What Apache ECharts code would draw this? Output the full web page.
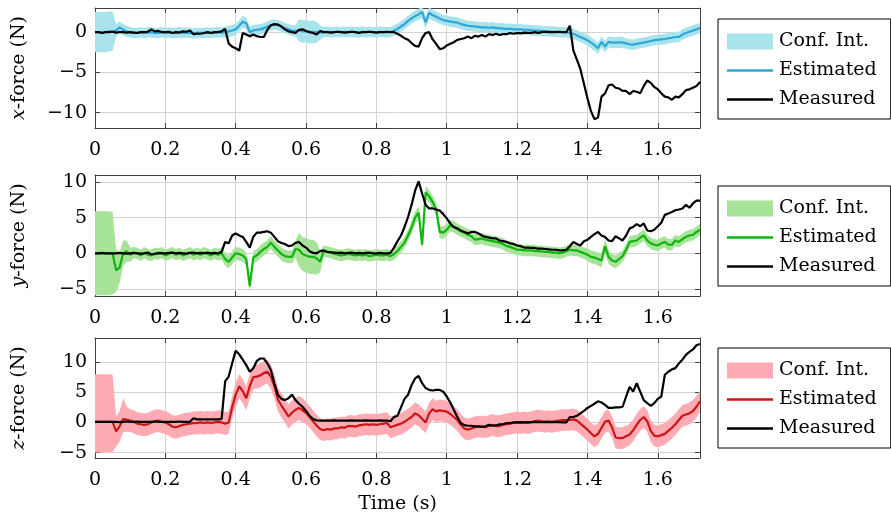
<!DOCTYPE html>
<html>
<head>
<meta charset="utf-8">
<script src="https://cdn.jsdelivr.net/npm/echarts@6/dist/echarts.min.js"></script>
<style>
  html, body { margin: 0; padding: 0; background: #ffffff; }
  #chart { width: 891px; height: 517px; }
</style>
</head>
<body>
<div id="chart"></div>
<script>
// Sample period of the recorded force signals (s)
const DT = 0.01;

// Tick labels
const timeTicks = [0, 0.2, 0.4, 0.6, 0.8, 1, 1.2, 1.4, 1.6];
const xForceTicks = [-10, -5, 0];
const yForceTicks = [-5, 0, 5, 10];
const zForceTicks = [-5, 0, 5, 10];
const legendLabels = ['Conf. Int.', 'Estimated', 'Measured'];

// ---- x-force (N) ----
const xMeasured = [
  0.0, 0.0, -0.1, 0.0, 0.0, 0.05, -0.05, 0.0, 0.0, -0.05,
  0.0, -0.05, -0.1, 0.0, 0.0, 0.05, 0.35, 0.1, 0.15, 0.0,
  0.0, 0.05, -0.1, 0.0, -0.05, 0.1, 0.05, 0.2, -0.25, -0.2,
  -0.2, -0.1, 0.0, -0.1, 0.0, 0.0, 0.1, 0.4, -1.4, -1.8,
  -2.0, -2.3, -0.1, -0.3, -0.5, -0.3, -0.5, -0.6, -0.6, 0.3,
  0.85, 1.0, 0.95, 0.7, 0.35, 0.1, 0.0, -0.1, 0.3, 0.35,
  0.15, 0.0, -0.1, -0.3, 0.15, 0.0, 0.0, -0.05, 0.0, 0.05,
  0.0, -0.05, 0.0, 0.05, 0.0, -0.1, 0.0, 0.0, 0.05, 0.0,
  -0.05, 0.0, 0.0, 0.05, 0.0, 0.0, -0.2, -0.45, -0.75, -0.95,
  -1.35, -1.7, -1.8, -0.75, -0.1, 0.0, -0.9, -1.45, -2.1, -2.0,
  -1.65, -1.45, -1.25, -0.95, -0.85, -0.75, -0.55, -0.75, -0.45, -0.55,
  -0.35, -0.55, -0.25, -0.35, -0.2, -0.35, -0.25, -0.25, -0.1, -0.2,
  -0.1, -0.15, -0.05, -0.1, -0.1, 0.0, -0.1, 0.0, 0.05, 0.0,
  0.0, 0.0, 0.05, 0.0, 0.0, 0.8, -2.3, -3.4, -4.6, -6.4,
  -8.2, -9.8, -10.8, -10.6, -8.0, -7.6, -6.6, -6.5, -6.9, -7.0,
  -7.3, -7.3, -7.7, -7.3, -7.4, -7.6, -6.7, -6.0, -6.3, -6.8,
  -7.1, -7.6, -8.0, -8.1, -8.4, -8.0, -8.1, -7.7, -7.2, -7.1,
  -6.9, -6.7, -6.2
];
const xEstimated = [
  0.0, 0.0, 0.0, 0.0, 0.1, 0.1, 0.2, 0.6, 0.3, 0.1,
  0.0, -0.1, -0.1, 0.0, -0.1, -0.05, 0.0, -0.1, -0.1, 0.0,
  -0.1, -0.05, -0.1, -0.1, 0.0, -0.1, -0.05, -0.1, -0.15, -0.1,
  -0.1, -0.1, -0.05, -0.1, -0.05, 0.0, -0.05, 0.0, 0.1, 0.2,
  0.35, 0.8, 1.3, 1.1, 0.0, 0.2, 0.3, 0.35, 0.5, 0.7,
  0.85, 0.95, 0.85, 0.7, 0.5, 0.35, 0.2, 0.15, 0.2, 0.1,
  0.1, 0.0, 0.05, 0.0, -0.05, 0.0, 0.05, 0.0, 0.0, 0.05,
  0.0, 0.05, 0.0, 0.05, 0.0, 0.0, 0.05, 0.0, 0.05, 0.0,
  0.0, 0.05, 0.0, 0.0, 0.0, 0.2, 0.4, 0.7, 1.0, 1.4,
  1.7, 2.0, 2.2, 2.5, 1.2, 2.4, 2.1, 1.9, 1.7, 1.5,
  1.4, 1.3, 1.25, 1.2, 1.0, 0.9, 0.8, 0.75, 0.7, 0.65,
  0.6, 0.6, 0.55, 0.6, 0.5, 0.5, 0.45, 0.4, 0.4, 0.35,
  0.35, 0.35, 0.3, 0.3, 0.25, 0.2, 0.2, 0.15, 0.1, 0.1,
  0.05, 0.05, 0.0, 0.0, 0.0, -0.1, -0.2, -0.4, -0.6, -0.8,
  -1.0, -1.3, -1.6, -2.0, -1.2, -1.8, -1.2, -1.3, -1.3, -1.25,
  -1.3, -1.4, -1.5, -1.55, -1.45, -1.35, -1.3, -1.2, -1.1, -1.0,
  -0.95, -0.9, -0.85, -0.75, -0.7, -0.6, -0.6, -0.3, -0.1, 0.05,
  0.2, 0.35, 0.5
];
const xCiHalf = [
  2.5, 2.5, 2.5, 2.5, 2.5, 2.4, 0.8, 0.7, 0.7, 0.7,
  0.65, 0.65, 0.65, 0.65, 0.65, 0.65, 0.65, 0.65, 0.65, 0.65,
  0.65, 0.65, 0.65, 0.65, 0.65, 0.65, 0.65, 0.65, 0.65, 0.65,
  0.65, 0.65, 0.65, 0.65, 0.65, 0.65, 0.65, 0.7, 0.7, 0.7,
  0.7, 0.7, 0.75, 0.75, 0.7, 0.7, 0.65, 0.65, 0.65, 0.65,
  0.65, 0.65, 0.65, 0.65, 0.65, 0.65, 0.65, 0.7, 1.4, 1.4,
  1.4, 1.4, 1.4, 1.3, 0.9, 0.65, 0.65, 0.65, 0.65, 0.65,
  0.65, 0.65, 0.65, 0.65, 0.65, 0.65, 0.65, 0.65, 0.65, 0.65,
  0.65, 0.65, 0.65, 0.65, 0.65, 0.65, 0.65, 0.65, 0.65, 0.65,
  0.65, 0.65, 0.7, 0.75, 0.8, 0.7, 0.65, 0.65, 0.65, 0.65,
  0.65, 0.65, 0.65, 0.65, 0.65, 0.65, 0.65, 0.65, 0.65, 0.65,
  0.65, 0.65, 0.65, 0.65, 0.65, 0.65, 0.65, 0.65, 0.65, 0.65,
  0.65, 0.65, 0.65, 0.65, 0.65, 0.65, 0.65, 0.65, 0.65, 0.65,
  0.65, 0.65, 0.65, 0.65, 0.65, 0.65, 0.65, 0.65, 0.65, 0.65,
  0.7, 0.7, 0.7, 0.7, 0.7, 0.7, 0.7, 0.7, 0.7, 0.7,
  0.7, 0.65, 0.65, 0.65, 0.65, 0.65, 0.65, 0.65, 0.65, 0.65,
  0.65, 0.65, 0.65, 0.65, 0.65, 0.65, 0.65, 0.65, 0.65, 0.65,
  0.65, 0.65, 0.65
];

// ---- y-force (N) ----
const yMeasured = [
  0.0, 0.0, 0.05, 0.0, 0.0, 0.0, 0.0, 0.05, 0.0, -0.05,
  0.0, 0.05, 0.0, -0.05, 0.0, 0.1, -0.15, -0.1, 0.05, 0.0,
  0.0, 0.05, 0.1, 0.0, 0.05, 0.0, -0.05, 0.05, 0.1, 0.0,
  0.05, 0.0, 0.1, 0.0, 0.05, 0.0, 0.2, 1.6, 1.4, 2.5,
  2.8, 2.5, 2.3, 1.6, 0.8, 2.3, 2.9, 2.9, 3.0, 3.1,
  2.9, 2.3, 1.7, 1.45, 1.3, 1.0, 1.1, 1.45, 1.6, 1.1,
  0.8, 0.3, 0.05, 0.0, 0.3, 0.4, 0.2, 0.15, 0.1, 0.05,
  0.1, 0.0, 0.05, 0.1, 0.0, 0.05, 0.0, 0.05, 0.1, 0.0,
  0.0, 0.05, 0.0, 0.0, 0.05, 0.8, 1.7, 2.5, 3.7, 5.1,
  6.8, 8.8, 10.1, 8.4, 6.8, 6.3, 6.3, 6.15, 6.0, 5.5,
  4.9, 4.2, 3.7, 3.5, 3.2, 3.0, 2.8, 3.0, 3.0, 2.8,
  2.5, 2.3, 2.2, 2.1, 2.1, 1.8, 1.7, 1.6, 1.4, 1.3,
  1.1, 1.0, 0.8, 0.8, 0.75, 0.75, 0.65, 0.65, 0.6, 0.55,
  0.5, 0.5, 0.4, 0.4, 0.5, 1.0, 1.6, 1.3, 1.1, 1.7,
  1.9, 2.3, 2.7, 3.0, 2.5, 2.3, 1.8, 1.7, 2.4, 2.1,
  1.8, 2.5, 3.5, 3.7, 4.1, 3.8, 4.2, 3.2, 3.1, 3.3,
  3.8, 4.3, 5.4, 5.6, 5.8, 6.05, 6.15, 6.3, 6.8, 6.4,
  7.0, 7.4, 7.4
];
const yEstimated = [
  0.0, 0.0, 0.0, 0.0, 0.0, 0.0, -2.4, -2.0, 0.0, 0.3,
  -0.2, 0.1, 0.0, -0.3, 0.1, -0.2, -0.3, 0.0, -0.1, 0.1,
  -0.3, -0.1, 0.1, -0.2, 0.0, -0.3, -0.1, 0.1, -0.2, 0.0,
  -0.2, 0.1, -0.1, -0.3, 0.0, -0.2, 0.0, -0.8, -1.2, -0.6,
  0.0, -0.1, -0.3, -0.8, -4.6, -0.6, -0.3, 0.2, 0.6, 0.9,
  1.5, 0.9, 0.4, -0.1, -0.4, -0.5, -0.5, 0.6, 0.5, -0.1,
  -0.3, -0.5, -0.5, -0.7, -1.2, 0.3, 0.2, 0.1, -0.1, -0.2,
  -0.3, -0.2, -0.1, -0.2, -0.3, -0.2, -0.3, -0.2, -0.4, -0.3,
  -0.2, -0.3, -0.3, -0.2, -0.4, -0.1, 0.3, 0.9, 1.5, 2.5,
  3.6, 5.0, 5.7, 1.2, 8.6, 8.0, 7.2, 6.2, 3.0, 2.9,
  3.3, 3.9, 3.7, 3.4, 3.1, 2.9, 2.6, 2.4, 1.9, 2.0,
  2.1, 1.9, 1.8, 1.7, 1.6, 1.5, 1.3, 1.0, 0.9, 0.7,
  0.5, 0.5, 0.4, 0.4, 0.4, 0.35, 0.3, 0.25, 0.2, 0.2,
  0.1, 0.1, 0.0, 0.1, 0.3, 0.5, 0.4, 0.4, 0.2, 0.0,
  -0.2, -0.5, -0.6, -0.8, -1.0, 1.0, -0.5, -1.0, -1.2, -0.8,
  -0.4, 0.5, 1.6, 1.7, 1.8, 2.2, 2.5, 1.8, 1.4, 1.2,
  1.1, 1.4, 1.6, 1.2, 1.2, 1.8, 1.6, 2.0, 2.3, 2.5,
  2.6, 3.0, 3.3
];
const yCiHalf = [
  5.9, 5.9, 5.9, 5.9, 5.9, 5.8, 3.0, 2.2, 1.8, 1.5,
  1.0, 0.8, 0.8, 0.8, 0.8, 0.8, 0.8, 0.8, 0.8, 0.8,
  0.8, 0.8, 0.8, 0.8, 0.8, 0.8, 0.8, 0.8, 0.8, 0.8,
  0.8, 0.8, 0.8, 0.8, 0.8, 0.8, 0.9, 0.9, 0.9, 0.9,
  0.9, 0.9, 0.9, 0.9, 0.9, 0.9, 0.9, 0.9, 0.9, 0.9,
  0.9, 0.9, 0.9, 0.9, 0.9, 0.9, 0.9, 1.2, 2.4, 2.4,
  2.4, 2.4, 2.4, 2.3, 1.5, 0.8, 0.8, 0.8, 0.8, 0.8,
  0.8, 0.8, 0.8, 0.8, 0.8, 0.8, 0.8, 0.8, 0.8, 0.8,
  0.8, 0.8, 0.8, 0.8, 0.8, 0.8, 0.8, 0.8, 0.8, 0.8,
  0.9, 0.9, 0.9, 0.9, 0.9, 0.9, 0.9, 0.9, 0.9, 0.9,
  0.8, 0.8, 0.8, 0.8, 0.8, 0.8, 0.8, 0.8, 0.8, 0.8,
  0.8, 0.8, 0.8, 0.8, 0.8, 0.8, 0.8, 0.8, 0.8, 0.8,
  0.8, 0.8, 0.8, 0.8, 0.8, 0.8, 0.8, 0.8, 0.8, 0.8,
  0.8, 0.8, 0.8, 0.8, 0.8, 0.8, 0.8, 0.8, 0.8, 0.8,
  0.9, 0.9, 0.9, 0.9, 1.0, 1.0, 1.0, 0.9, 0.9, 0.9,
  0.8, 0.8, 0.8, 0.8, 0.8, 0.8, 0.8, 0.8, 0.8, 0.8,
  0.8, 0.8, 0.8, 0.8, 0.8, 0.8, 0.8, 0.8, 0.8, 0.8,
  0.8, 0.8, 0.8
];

// ---- z-force (N) ----
const zMeasured = [
  0.1, 0.1, 0.1, 0.1, 0.1, 0.1, 0.1, 0.05, 0.1, 0.15,
  0.1, 0.1, 0.15, 0.1, 0.1, 0.1, 0.1, 0.15, 0.1, 0.1,
  0.1, 0.1, 0.1, 0.1, 0.15, 0.1, 0.1, 0.1, 0.7, 0.5,
  0.5, 0.5, 0.5, 0.5, 0.5, 0.5, 0.6, 6.8, 7.6, 9.8,
  11.9, 11.3, 10.4, 9.5, 8.4, 9.0, 10.2, 10.6, 10.6, 9.8,
  8.7, 6.5, 4.6, 3.9, 3.7, 4.0, 4.6, 3.7, 3.1, 2.6,
  1.9, 1.1, 0.55, 0.35, 0.3, 0.3, 0.3, 0.3, 0.35, 0.3,
  0.3, 0.3, 0.3, 0.35, 0.3, 0.3, 0.3, 0.35, 0.3, 0.3,
  0.3, 0.35, 0.3, 0.3, 0.2, 0.9, 1.1, 2.5, 3.9, 4.6,
  6.2, 7.3, 7.7, 6.5, 5.7, 5.4, 5.3, 5.4, 5.4, 5.1,
  4.3, 3.3, 2.1, 0.9, -0.1, -0.45, -0.55, -0.55, -0.65, -0.65,
  -0.75, -0.65, -0.4, -0.55, -0.5, -0.3, -0.3, -0.1, -0.1, 0.0,
  0.0, 0.05, 0.0, 0.05, 0.05, 0.1, 0.05, 0.05, 0.1, 0.05,
  0.05, 0.1, 0.05, 0.0, 0.0, 0.9, 0.9, 1.1, 1.5, 1.9,
  2.4, 2.75, 3.1, 3.5, 3.3, 2.9, 2.4, 2.4, 2.5, 2.5,
  2.6, 4.3, 5.9, 5.1, 6.5, 5.1, 3.7, 3.2, 2.75, 3.2,
  3.9, 4.3, 7.9, 8.4, 8.8, 9.0, 9.8, 10.4, 11.2, 11.7,
  12.1, 12.8, 13.0
];
const zEstimated = [
  0.1, 0.1, 0.1, 0.1, 0.1, 0.1, -1.5, -0.65, 0.55, 0.45,
  0.3, 0.1, -0.2, -0.3, -0.4, -0.3, 0.0, 0.2, 0.3, 0.1,
  0.0, -0.3, -0.7, -0.8, -0.6, -0.4, -0.3, -0.2, -0.1, -0.1,
  0.0, -0.1, 0.0, -0.1, 0.0, 0.1, 0.0, -0.2, 0.0, 2.5,
  4.6, 6.0, 5.2, 4.0, 6.0, 7.5, 7.6, 7.8, 8.2, 8.4,
  7.6, 6.0, 3.8, 2.8, 1.9, 1.0, 1.6, 2.1, 2.4, 2.0,
  1.6, 0.9, 0.2, -0.5, -1.1, -1.3, -1.1, -1.2, -1.0, -1.0,
  -0.8, -0.9, -0.6, -0.6, -0.7, -0.5, -0.4, -0.3, -0.4, -0.3,
  -0.4, -0.3, -0.2, -0.1, -0.8, -0.6, -0.4, -0.2, 0.1, 0.5,
  0.9, 1.5, 1.2, 0.6, 0.0, 1.5, 2.2, 1.8, 2.0, 1.9,
  1.8, 1.4, 0.9, 0.4, -0.4, -1.0, -1.2, -1.0, -0.8, -0.7,
  -0.7, -0.8, -0.6, -0.4, -0.6, -0.6, -0.4, -0.3, -0.2, -0.1,
  0.0, -0.1, 0.0, -0.1, 0.0, 0.2, 0.3, 0.2, 0.1, 0.2,
  0.1, 0.2, 0.3, 0.4, 0.4, 0.4, 0.5, 0.3, -0.2, -0.7,
  -1.2, -1.8, -2.3, -1.9, -0.9, 0.1, 0.3, -0.8, -2.5, -2.6,
  -2.6, -2.3, -2.0, -1.3, -0.4, 0.4, 0.9, 0.2, -1.4, -2.2,
  -2.3, -2.1, -1.9, -1.4, -0.9, -0.3, 0.4, 1.1, 1.3, 1.5,
  1.9, 2.6, 3.5
];
const zCiAbove = [
  7.9, 7.9, 7.9, 7.9, 7.9, 7.8, 2.5, 2.5, 3.5, 2.2,
  1.9, 1.9, 1.9, 1.9, 1.9, 1.9, 1.9, 1.9, 1.9, 1.9,
  1.9, 1.9, 1.9, 1.9, 1.9, 1.9, 1.9, 1.9, 1.9, 1.9,
  1.9, 1.9, 1.9, 1.9, 1.9, 1.9, 1.9, 1.9, 1.9, 1.9,
  2.0, 2.0, 2.0, 2.0, 2.0, 2.0, 2.0, 2.0, 2.0, 2.0,
  2.0, 2.0, 2.0, 2.0, 2.0, 2.0, 2.0, 2.0, 2.0, 2.0,
  1.8, 1.8, 1.8, 1.8, 1.8, 1.8, 1.8, 1.8, 1.8, 1.8,
  1.8, 1.8, 1.8, 1.8, 1.8, 1.8, 1.8, 1.8, 1.8, 1.8,
  1.8, 1.8, 1.8, 1.8, 1.8, 1.8, 1.8, 1.8, 1.8, 1.8,
  1.8, 1.8, 1.8, 1.8, 1.8, 1.8, 1.8, 1.8, 1.8, 1.8,
  1.8, 1.8, 1.8, 1.8, 1.8, 1.8, 1.8, 1.8, 1.8, 1.8,
  1.8, 1.8, 1.8, 1.8, 1.8, 1.8, 1.8, 1.8, 1.8, 1.8,
  1.8, 1.8, 1.8, 1.8, 1.8, 1.8, 1.8, 1.8, 1.8, 1.8,
  1.8, 1.8, 1.8, 1.8, 1.8, 1.8, 1.8, 1.8, 1.8, 1.8,
  1.8, 1.8, 1.8, 1.8, 1.8, 1.8, 1.8, 1.8, 1.8, 1.8,
  1.8, 1.8, 1.8, 1.8, 1.8, 1.8, 1.8, 1.8, 1.8, 1.8,
  1.8, 1.8, 1.8, 1.8, 1.8, 1.8, 1.8, 1.8, 1.8, 1.8,
  1.8, 1.8, 1.8
];
const zCiBelow = [
  5.1, 5.1, 5.1, 5.1, 5.1, 5.0, 2.5, 2.5, 2.2, 2.0,
  1.9, 1.9, 1.9, 1.9, 1.9, 1.9, 1.9, 1.9, 1.9, 1.9,
  1.9, 1.9, 1.9, 1.9, 1.9, 1.9, 1.9, 1.9, 1.9, 1.9,
  1.9, 1.9, 1.9, 1.9, 1.9, 1.9, 1.9, 1.9, 1.9, 1.9,
  2.0, 2.0, 2.0, 2.0, 2.0, 2.0, 2.0, 2.0, 2.0, 2.0,
  2.0, 2.0, 2.0, 2.0, 2.0, 2.0, 2.0, 2.0, 2.0, 2.0,
  1.8, 1.8, 1.8, 1.8, 1.8, 1.8, 1.8, 1.8, 1.8, 1.8,
  1.8, 1.8, 1.8, 1.8, 1.8, 1.8, 1.8, 1.8, 1.8, 1.8,
  1.8, 1.8, 1.8, 1.8, 1.8, 1.8, 1.8, 1.8, 1.8, 1.8,
  1.8, 1.8, 1.8, 1.8, 1.8, 1.8, 1.8, 1.8, 1.8, 1.8,
  1.8, 1.8, 1.8, 1.8, 1.8, 1.8, 1.8, 1.8, 1.8, 1.8,
  1.8, 1.8, 1.8, 1.8, 1.8, 1.8, 1.8, 1.8, 1.8, 1.8,
  1.8, 1.8, 1.8, 1.8, 1.8, 1.8, 1.8, 1.8, 1.8, 1.8,
  1.8, 1.8, 1.8, 1.8, 1.8, 1.8, 1.8, 1.8, 1.8, 1.8,
  1.8, 1.8, 1.8, 1.8, 1.8, 1.8, 1.8, 1.8, 1.8, 1.8,
  1.8, 1.8, 1.8, 1.8, 1.8, 1.8, 1.8, 1.8, 1.8, 1.8,
  1.8, 1.8, 1.8, 1.8, 1.8, 1.8, 1.8, 1.8, 1.8, 1.8,
  1.8, 1.8, 1.8
];

// ---- layout / styling ----
const FONT = 'DejaVu Serif';
const FS = 19;
const FRAME = '#404040';
const GRIDLINE = '#d3d3d3';
const LINE_ICON = 'path://M0,0 L46,0 L46,2.4 L0,2.4 Z';

const panels = [
  { key: 'x', axisName: '{i|x}-force (N)', meas: xMeasured, est: xEstimated, above: xCiHalf, below: xCiHalf,
    yMin: -11.9, yMax: 3, ticks: xForceTicks, fill: '#a9e4ed', line: '#2ea7d8', top: 8, height: 120, legendTop: 19 },
  { key: 'y', axisName: '{i|y}-force (N)', meas: yMeasured, est: yEstimated, above: yCiHalf, below: yCiHalf,
    yMin: -6, yMax: 11, ticks: yForceTicks, fill: '#a7e49a', line: '#0fb40f', top: 175, height: 121, legendTop: 186 },
  { key: 'z', axisName: '{i|z}-force (N)', meas: zMeasured, est: zEstimated, above: zCiAbove, below: zCiBelow,
    yMin: -5.9, yMax: 14, ticks: zForceTicks, fill: '#ffabb4', line: '#cc1414', top: 338, height: 120, legendTop: 348 }
];

function fmtTick(v) {
  const s = String(Math.round(v * 100) / 100);
  return s.replace('-', '\u2212');
}
function timeOf(i) { return +(i * DT).toFixed(2); }
function toPairs(values) {
  return values.map((v, i) => [timeOf(i), v]);
}

const grids = [], xAxes = [], yAxes = [], series = [], legends = [];

panels.forEach((p, gi) => {
  grids.push({ left: 95, right: 191, top: p.top, height: p.height, containLabel: false });

  const tickCommon = { show: true, inside: true, length: 5, lineStyle: { color: FRAME, width: 1 } };
  const lineCommon = { show: true, onZero: false, lineStyle: { color: FRAME, width: 1 } };
  const labelCommon = { color: '#000', fontFamily: FONT, fontSize: FS, formatter: fmtTick };

  // bottom & top time axes
  xAxes.push({
    type: 'value', gridIndex: gi, position: 'bottom', min: 0, max: 1.72,
    axisLine: lineCommon,
    axisTick: Object.assign({ customValues: timeTicks }, tickCommon),
    axisLabel: Object.assign({ customValues: timeTicks, margin: 13 }, labelCommon),
    splitLine: { show: true, lineStyle: { color: GRIDLINE, width: 1 } },
    name: gi === 2 ? 'Time (s)' : '', nameLocation: 'middle', nameGap: 37,
    nameTextStyle: { color: '#000', fontFamily: FONT, fontSize: FS }
  });
  xAxes.push({
    type: 'value', gridIndex: gi, position: 'top', min: 0, max: 1.72,
    axisLine: lineCommon,
    axisTick: Object.assign({ customValues: timeTicks }, tickCommon),
    axisLabel: { show: false, customValues: timeTicks },
    splitLine: { show: false }
  });

  // left & right force axes
  yAxes.push({
    type: 'value', gridIndex: gi, position: 'left', min: p.yMin, max: p.yMax,
    axisLine: lineCommon,
    axisTick: Object.assign({ customValues: p.ticks }, tickCommon),
    axisLabel: Object.assign({ customValues: p.ticks, margin: 8 }, labelCommon),
    splitLine: { show: true, lineStyle: { color: GRIDLINE, width: 1 } },
    name: p.axisName, nameLocation: 'middle', nameGap: 66, nameRotate: 90,
    nameTextStyle: {
      color: '#000', fontFamily: FONT, fontSize: FS,
      rich: { i: { fontStyle: 'italic', fontFamily: FONT, fontSize: FS, color: '#000' } }
    }
  });
  yAxes.push({
    type: 'value', gridIndex: gi, position: 'right', min: p.yMin, max: p.yMax,
    axisLine: lineCommon,
    axisTick: Object.assign({ customValues: p.ticks }, tickCommon),
    axisLabel: { show: false, customValues: p.ticks },
    splitLine: { show: false }
  });

  const ax = { xAxisIndex: 2 * gi, yAxisIndex: 2 * gi };
  const names = [p.key + 'Ci', p.key + 'Est', p.key + 'Meas'];

  // confidence band: one polygon through the upper edge and back along the lower edge
  const bandData = p.est.map((v, i) => [timeOf(i), v - p.below[i], v + p.above[i]]);
  series.push(Object.assign({
    name: names[0], type: 'custom', data: bandData, silent: true, z: 1,
    itemStyle: { color: p.fill },
    encode: { x: 0, y: [1, 2] },
    renderItem: function (params, api) {
      if (params.dataIndex !== 0) return null;
      const upper = bandData.map(d => api.coord([d[0], d[2]]));
      const lower = bandData.map(d => api.coord([d[0], d[1]])).reverse();
      const cs = params.coordSys;
      return {
        type: 'polygon',
        shape: { points: upper.concat(lower) },
        style: { fill: p.fill, stroke: null },
        clipPath: { type: 'rect', shape: { x: cs.x, y: cs.y, width: cs.width, height: cs.height } }
      };
    }
  }, ax));
  series.push(Object.assign({
    name: names[1], type: 'line', data: toPairs(p.est), symbol: 'none', showSymbol: false,
    lineStyle: { color: p.line, width: 2.2 }, itemStyle: { color: p.line }, z: 3
  }, ax));
  series.push(Object.assign({
    name: names[2], type: 'line', data: toPairs(p.meas), symbol: 'none', showSymbol: false,
    lineStyle: { color: '#000', width: 2.2 }, itemStyle: { color: '#000' }, z: 4
  }, ax));

  legends.push({
    left: 718, top: p.legendTop, orient: 'vertical', selectedMode: false,
    data: [
      { name: names[0], icon: 'rect', itemStyle: { color: p.fill, borderWidth: 0 } },
      { name: names[1], icon: LINE_ICON, itemStyle: { color: p.line, borderWidth: 0 } },
      { name: names[2], icon: LINE_ICON, itemStyle: { color: '#000', borderWidth: 0 } }
    ],
    formatter: n => legendLabels[names.indexOf(n)],
    itemWidth: 46, itemHeight: 16, itemGap: 10,
    padding: [13, 14, 10, 9],
    borderColor: '#000', borderWidth: 1,
    textStyle: { color: '#000', fontFamily: FONT, fontSize: FS, padding: [0, 0, 0, 1] }
  });
});

const chart = echarts.init(document.getElementById('chart'), null, { renderer: 'canvas' });
chart.setOption({
  animation: false,
  backgroundColor: '#ffffff',
  grid: grids,
  xAxis: xAxes,
  yAxis: yAxes,
  legend: legends,
  series: series
});
</script>
</body>
</html>
